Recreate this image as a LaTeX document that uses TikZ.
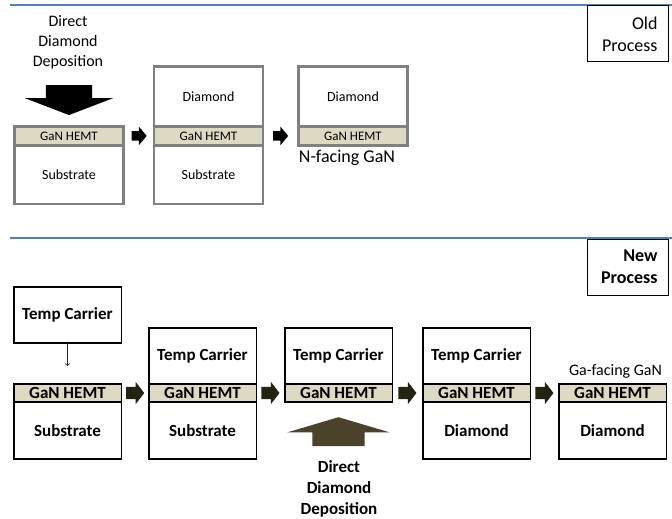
\documentclass[tikz,border=0pt]{standalone}
\usepackage{fontspec}
\setmainfont{Carlito}
\usepackage{tikz}
\usetikzlibrary{positioning,shapes.arrows}
\definecolor{hemtfill}{HTML}{DDD9C3}
\definecolor{oldgray}{HTML}{808080}
\definecolor{ruleblue}{HTML}{4F81BD}
\definecolor{stepdark}{HTML}{24230F}
\definecolor{depbrown}{HTML}{4A4229}
\tikzset{old layer/.style={draw=oldgray,line width=2.5pt,fill=white,minimum width=109pt,inner sep=0pt,outer sep=0pt,font=\fontsize{14}{16}\selectfont},
  new layer/.style={draw=black,line width=1.5pt,fill=white,minimum width=107.5pt,inner sep=0pt,outer sep=0pt,font=\fontsize{17}{20}\selectfont\bfseries},
  hemt/.style={fill=hemtfill},
  old arrow/.style={single arrow,fill=black,minimum height=15pt,inner xsep=0pt,inner ysep=4.5pt,single arrow head extend=4.5pt,single arrow tip angle=100,anchor=tail},
  new arrow/.style={single arrow,fill=stepdark,minimum height=18pt,inner xsep=0pt,inner ysep=6pt,single arrow head extend=5pt,single arrow tip angle=105,anchor=tail},
  tag box/.style={draw=black,line width=1pt,minimum width=81pt,minimum height=56pt,text width=60pt,align=right,inner xsep=10.5pt,anchor=north west}}

\begin{document}
\begin{tikzpicture}[x=1pt,y=-1pt]
            \useasboundingbox (0,0) rectangle (672,519);

            % old process
            \draw[ruleblue,line width=1.2pt] (10,5) -- (672,5);
            \node[tag box,font=\fontsize{18}{22}\selectfont] (old tag) at (586.5,5.5) {Old\\Process};

            \node[font=\fontsize{16}{20}\selectfont,align=center] (o-dep) at (68,42) {Direct\\Diamond\\Deposition};

            \node[old layer,hemt,minimum height=19.25pt,font=\fontsize{13}{15}\selectfont] (o1-gan) at (69,135.9) {GaN HEMT};
            \node[old layer,minimum height=58.25pt] (o1-sub) [below = 0pt of o1-gan] {Substrate};
            \node[single arrow,fill=black,minimum height=30pt,inner xsep=0pt,inner ysep=23pt,single arrow head extend=21pt,single arrow tip angle=138,rotate=-90] (o-drop) [above = 11pt of o1-gan,anchor=tip] {};

            \node[old layer,hemt,minimum height=19.25pt,font=\fontsize{13}{15}\selectfont] (o2-gan) [right = 30.5pt of o1-gan] {GaN HEMT};
            \node[old layer,minimum height=60pt] (o2-dia) [above = 0pt of o2-gan] {Diamond};
            \node[old layer,minimum height=58.25pt] (o2-sub) [below = 0pt of o2-gan] {Substrate};

            \node[old layer,hemt,minimum height=19.25pt,font=\fontsize{13}{15}\selectfont] (o3-gan) [right = 35.5pt of o2-gan] {GaN HEMT};
            \node[old layer,minimum height=60pt] (o3-dia) [above = 0pt of o3-gan] {Diamond};
            \node[font=\fontsize{18}{22}\selectfont] (o3-face) [below = 1pt of o3-gan,xshift=-6pt] {N-facing GaN};

            \node[old arrow] (o-step1) [right = 8pt of o1-gan,anchor=tail] {};
            \node[old arrow] (o-step2) [right = 10pt of o2-gan,anchor=tail] {};

            % new process
            \draw[ruleblue,line width=1.2pt] (10,238) -- (672,238);
            \node[tag box,font=\fontsize{18}{22}\selectfont\bfseries] (new tag) at (586.5,238.5) {New\\Process};

            \node[new layer,hemt,minimum height=18pt] (n1-gan) at (67.5,393) {GaN HEMT};
            \node[new layer,minimum height=57pt] (n1-sub) [below = 0pt of n1-gan] {Substrate};
            \node[new layer,minimum height=56pt] (n0-tc) [above = 41pt of n1-gan] {Temp Carrier};

            \node[new layer,hemt,minimum height=18pt] (n2-gan) [right = 27.5pt of n1-gan] {GaN HEMT};
            \node[new layer,minimum height=56pt] (n2-tc) [above = 0pt of n2-gan] {Temp Carrier};
            \node[new layer,minimum height=57pt] (n2-sub) [below = 0pt of n2-gan] {Substrate};

            \node[new layer,hemt,minimum height=18pt] (n3-gan) [right = 28.5pt of n2-gan] {GaN HEMT};
            \node[new layer,minimum height=56pt] (n3-tc) [above = 0pt of n3-gan] {Temp Carrier};
            \node[single arrow,fill=depbrown,minimum height=29pt,inner xsep=0pt,inner ysep=26pt,single arrow head extend=25pt,single arrow tip angle=147,rotate=90] (n-rise) [below = 15pt of n3-gan,anchor=tip] {};
            \node[font=\fontsize{17}{21}\selectfont\bfseries,align=center] (n-dep) at (339,489) {Direct\\Diamond\\Deposition};

            \node[new layer,hemt,minimum height=18pt] (n4-gan) [right = 30.5pt of n3-gan] {GaN HEMT};
            \node[new layer,minimum height=56pt] (n4-tc) [above = 0pt of n4-gan] {Temp Carrier};
            \node[new layer,minimum height=57pt] (n4-dia) [below = 0pt of n4-gan] {Diamond};

            \node[new layer,hemt,minimum height=18pt] (n5-gan) [right = 28.5pt of n4-gan] {GaN HEMT};
            \node[new layer,minimum height=57pt] (n5-dia) [below = 0pt of n5-gan] {Diamond};
            \node[font=\fontsize{16}{19}\selectfont] (n5-face) [above = 2pt of n5-gan,xshift=3pt] {Ga-facing GaN};

            \node[new arrow] (n-step1) [right = 4.75pt of n1-gan,anchor=tail] {};
            \node[new arrow] (n-step2) [right = 5pt of n2-gan,anchor=tail] {};
            \node[new arrow] (n-step3) [right = 6pt of n3-gan,anchor=tail] {};
            \node[new arrow] (n-step4) [right = 5pt of n4-gan,anchor=tail] {};

            \path[draw,->,line width=0.8pt,black!85,shorten >=18pt]
            (n0-tc) edge (n1-gan);
        \end{tikzpicture}
\end{document}
